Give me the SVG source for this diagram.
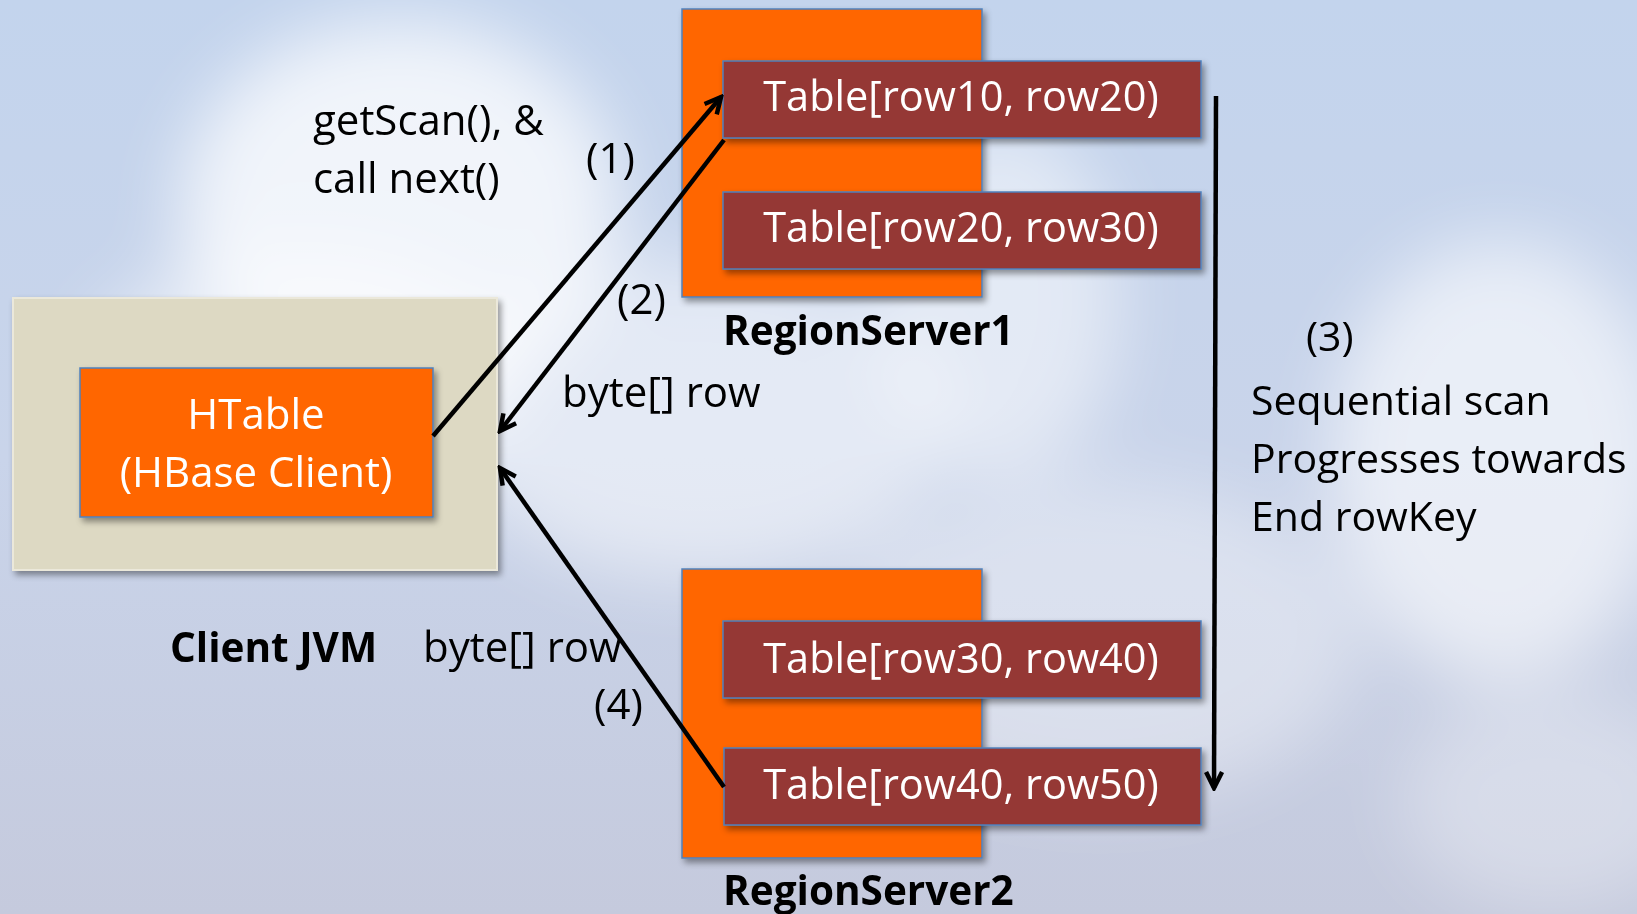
<svg xmlns="http://www.w3.org/2000/svg" width="1637" height="914" viewBox="0 0 1637 914">
<style>
.t{font-family:"Open Sans","Liberation Sans",sans-serif;font-size:42px;fill:#000}
.s{font-size:41px}
.b{font-weight:bold;font-size:40.5px}
.w{fill:#fff}
.tab{font-family:"Open Sans","Liberation Sans",sans-serif;font-size:41.5px;fill:#fff;text-anchor:middle}
.rs{fill:#ff6600;stroke:#4f81bd;stroke-width:1.5}
.tb{fill:#953735;stroke:#4f81bd;stroke-width:1.5}
.cn{fill:none;stroke:#000;stroke-width:4.5}
</style>
<defs>
<linearGradient id="sky" x1="0" y1="0" x2="0" y2="1">
<stop offset="0" stop-color="#c3d4ed"/>
<stop offset="0.5" stop-color="#c9d4ea"/>
<stop offset="1" stop-color="#c5cadd"/>
</linearGradient>
<filter id="blur" x="-50%" y="-50%" width="200%" height="200%"><feGaussianBlur stdDeviation="35"/></filter>
<filter id="sh" x="-10%" y="-10%" width="130%" height="130%"><feDropShadow dx="3" dy="4" stdDeviation="3" flood-color="#000" flood-opacity="0.4"/></filter>
<marker id="ah" viewBox="0 0 22 22" refX="19" refY="11" markerWidth="22" markerHeight="22" markerUnits="userSpaceOnUse" orient="auto">
<path d="M3,3 L19,11 L3,19" fill="none" stroke="#000" stroke-width="4.5" stroke-linejoin="miter"/>
</marker>
</defs>
<g id="background">
<rect width="1637" height="914" fill="url(#sky)"/>
<g filter="url(#blur)" fill="#ffffff">
<ellipse cx="400" cy="210" rx="220" ry="190" opacity="0.75"/>
<ellipse cx="300" cy="380" rx="220" ry="130" opacity="0.5"/>
<ellipse cx="700" cy="420" rx="250" ry="160" opacity="0.5"/>
<ellipse cx="1000" cy="300" rx="120" ry="180" opacity="0.5"/>
<ellipse cx="1500" cy="460" rx="170" ry="220" opacity="0.6"/>
<ellipse cx="1100" cy="640" rx="260" ry="160" opacity="0.35"/>
<ellipse cx="1550" cy="800" rx="150" ry="110" opacity="0.3"/>
</g>
</g>
<g id="client-jvm">
<rect x="13" y="298" width="484" height="272" fill="#ddd9c3" stroke="#ebe8da" stroke-width="2" filter="url(#sh)"/>
<text class="t b" x="170" y="662">Client JVM</text>
</g>
<g id="htable">
<rect x="80" y="368" width="353" height="149" class="rs" filter="url(#sh)"/>
<text class="t w" x="256" y="429" text-anchor="middle">HTable</text>
<text class="t w" x="256" y="487" text-anchor="middle">(HBase Client)</text>
</g>
<g id="regionserver1">
<rect x="682" y="9" width="300" height="288" class="rs" filter="url(#sh)"/>
<text class="t b" x="723" y="345">RegionServer1</text>
</g>
<g id="table-row10-row20">
<rect x="723" y="61" width="478" height="77" class="tb" filter="url(#sh)"/>
<text class="tab" x="961" y="111">Table[row10, row20)</text>
</g>
<g id="table-row20-row30">
<rect x="723" y="192" width="478" height="77" class="tb" filter="url(#sh)"/>
<text class="tab" x="961" y="242">Table[row20, row30)</text>
</g>
<g id="regionserver2">
<rect x="682" y="569" width="300" height="289" class="rs" filter="url(#sh)"/>
<text class="t b" x="723" y="905">RegionServer2</text>
</g>
<g id="table-row30-row40">
<rect x="723" y="621" width="478" height="77" class="tb" filter="url(#sh)"/>
<text class="tab" x="961" y="673">Table[row30, row40)</text>
</g>
<g id="table-row40-row50">
<rect x="724" y="748" width="477" height="77" class="tb" filter="url(#sh)"/>
<text class="tab" x="961" y="799">Table[row40, row50)</text>
</g>
<g id="connectors">
<line class="cn" x1="433" y1="436" x2="721" y2="97" marker-end="url(#ah)"/>
<line class="cn" x1="724" y1="140" x2="500" y2="431" marker-end="url(#ah)"/>
<line class="cn" x1="724" y1="787" x2="500" y2="468" marker-end="url(#ah)"/>
<line class="cn" x1="1216" y1="96" x2="1214" y2="788" marker-end="url(#ah)"/>
</g>
<g id="labels">
<text class="t" x="313" y="135">getScan(), &amp;</text>
<text class="t" x="313" y="193">call next()</text>
<text class="t" x="586" y="173">(1)</text>
<text class="t" x="617" y="314">(2)</text>
<text class="t" x="562" y="407">byte[] row</text>
<text class="t" x="423" y="662">byte[] row</text>
<text class="t" x="594" y="719">(4)</text>
<text class="t s" x="1306" y="351">(3)</text>
<text class="t s" x="1251" y="415">Sequential scan</text>
<text class="t s" x="1251" y="473">Progresses towards</text>
<text class="t s" x="1251" y="531">End rowKey</text>
</g>
</svg>
